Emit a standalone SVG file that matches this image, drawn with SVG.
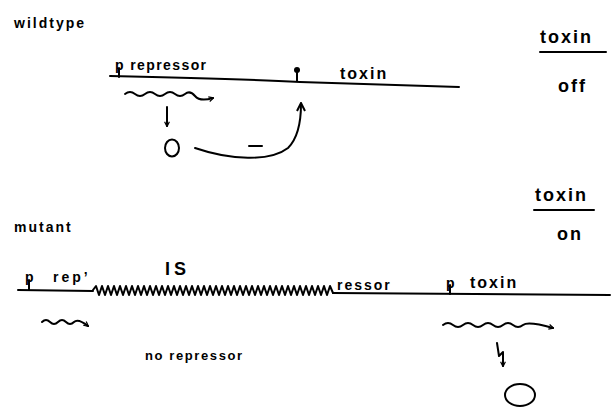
<svg xmlns="http://www.w3.org/2000/svg" width="613" height="413" viewBox="0 0 613 413">
<style>
  text { font-family: "Liberation Sans", "DejaVu Sans", sans-serif; fill: #000; }
  .lbl { font-size: 14px; font-weight: bold; letter-spacing: 1px; }
  .big { font-size: 18px; font-weight: bold; letter-spacing: 2px; }
  .ln { fill: none; stroke: #000; stroke-width: 2; stroke-linecap: round; stroke-linejoin: round; }
</style>
<defs>
  <marker id="ah" viewBox="0 0 10 10" refX="8" refY="5" markerWidth="6" markerHeight="6" orient="auto" markerUnits="userSpaceOnUse">
    <path d="M1,1 L9,5 L1,9" fill="none" stroke="#000" stroke-width="2"/>
  </marker>
  <marker id="ah2" viewBox="0 0 10 10" refX="8" refY="5" markerWidth="10" markerHeight="10" orient="auto" markerUnits="userSpaceOnUse">
    <path d="M1,1 L9,5 L1,9" fill="none" stroke="#000" stroke-width="2"/>
  </marker>
</defs>
<rect width="613" height="413" fill="#fff"/>

<!-- headers -->
<g id="wildtype-label"><text class="lbl" x="14" y="28" style="letter-spacing:2px">wildtype</text></g>
<g id="mutant-label"><text class="lbl" x="14" y="232" style="letter-spacing:2px">mutant</text></g>
<g id="toxin-off"><text class="big" x="540" y="43">toxin</text><line class="ln" x1="540" y1="52" x2="606" y2="52"/><text class="big" x="558" y="92">off</text></g>
<g id="toxin-on"><text class="big" x="535" y="201">toxin</text><line class="ln" x1="534" y1="210" x2="594" y2="210"/><text class="big" x="557" y="240">on</text></g>

<!-- wildtype DNA -->
<g id="wt-dna">
  <path class="ln" d="M110,76 C200,78 260,80 300,82 L459,87"/>
  <line class="ln" x1="119" y1="68" x2="119" y2="77"/>
  <text class="lbl" x="115" y="70" style="letter-spacing:1.4px">p repressor</text>
  <line class="ln" x1="297" y1="72" x2="297" y2="81"/>
  <circle cx="297" cy="70" r="3" fill="#000"/>
  <text class="big" x="340" y="79" style="font-size:16px">toxin</text>
</g>
<g id="wt-repressor-protein"><ellipse class="ln" cx="172" cy="148" rx="7" ry="8.5"/></g>

<!-- mutant DNA -->
<g id="mut-dna">
  <path class="ln" d="M18,290 L93,291"/>
  <path class="ln" d="M333,293 L610,295"/>
  <line class="ln" x1="29" y1="280" x2="29" y2="290"/>
  <text class="lbl" x="25" y="282">p</text>
  <text class="lbl" x="53" y="282" style="letter-spacing:3px">rep’</text>
  <text class="big" x="165" y="275" style="letter-spacing:4px">IS</text>
  <path class="ln" stroke-width="2.4" d="M93,290 l3,-4
    l3,9 l3,-9 l3,9 l3,-9 l3,9 l3,-9 l3,9 l3,-9 l3,9 l3,-9 l3,9 l3,-9 l3,9 l3,-9 l3,9 l3,-9 l3,9 l3,-9 l3,9 l3,-9
    l3,9 l3,-9 l3,9 l3,-9 l3,9 l3,-9 l3,9 l3,-9 l3,9 l3,-9 l3,9 l3,-9 l3,9 l3,-9 l3,9 l3,-9 l3,9 l3,-9 l3,9 l3,-9
    l3,9 l3,-9 l3,9 l3,-9 l3,9 l3,-9 l3,9 l3,-9 l3,9 l3,-9 l3,9 l3,-9 l3,9 l3,-9 l3,9 l3,-9 l3,9 l3,-9 l3,9 l3,-9
    l3,9 l3,-9 l3,9 l3,-9 l3,9 l3,-9 l3,9 l3,-9 l3,9 l3,-9 l3,9 l3,-9 l3,9 l3,-9 l3,9 l3,-9 l3,9 l3,-9
    l3,7"/>
  <text class="lbl" x="337" y="290" style="letter-spacing:2px">ressor</text>
  <line class="ln" x1="450" y1="285" x2="450" y2="294"/>
  <text class="lbl" x="446" y="288">p</text>
  <text class="big" x="470" y="288" style="font-size:16px">toxin</text>
</g>
<g id="mut-no-repressor"><text class="lbl" x="145" y="360" style="font-size:13px;letter-spacing:1.6px">no repressor</text></g>
<g id="mut-toxin-protein"><ellipse class="ln" cx="520" cy="395" rx="15" ry="11"/></g>

<!-- connectors -->
<g id="connectors">
  <path class="ln" marker-end="url(#ah)" d="M125,94 q5,-4 10,0 t10,0 t10,0 t10,0 t10,0 t10,0 t10,2 t18,2"/>
  <path class="ln" marker-end="url(#ah)" d="M167,107 L167,126"/>
  <path class="ln" marker-end="url(#ah2)" d="M195,148 C230,160 270,162 288,148 C298,138 301,120 301,104"/>
  <line class="ln" x1="249" y1="146" x2="262" y2="146"/>
  <path class="ln" marker-end="url(#ah)" d="M42,322 q4,-4 8,0 t8,0 t8,0 t8,0 t14,4"/>
  <path class="ln" marker-end="url(#ah)" d="M443,325 q5,-4 10,0 t10,0 t10,0 t10,0 t10,0 t10,0 t10,0 t10,0 t30,3"/>
  <path class="ln" marker-end="url(#ah)" d="M497,343 L499,356 L503,352 L503,366"/>
</g>
</svg>
